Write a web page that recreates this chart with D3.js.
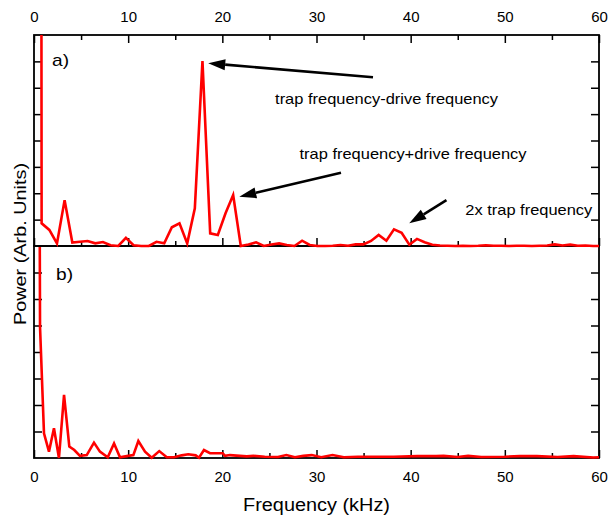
<!DOCTYPE html>
<html>
<head>
<meta charset="utf-8">
<script src="https://cdn.jsdelivr.net/npm/d3@7"></script>
<style>
  body { margin: 0; background: #fff; }
  svg text { font-family: "Liberation Sans", Arial, sans-serif; fill: #000; }
</style>
</head>
<body>
<div id="main"></div>
<script>
// panel a) spectrum, one point every ~0.813 kHz
const topFreq = [0, 0.81, 1.63, 2.44, 3.25, 4.07, 4.88, 5.69, 6.51, 7.32, 8.13, 8.95, 9.76, 10.57, 11.39,
  12.2, 13.01, 13.83, 14.64, 15.45, 16.27, 17.08, 17.89, 18.71, 19.52, 20.34, 21.15, 21.96, 22.78, 23.59,
  24.4, 25.22, 26.03, 26.84, 27.66, 28.47, 29.28, 30.1, 30.91, 31.72, 32.54, 33.35, 34.16, 34.98, 35.79,
  36.6, 37.42, 38.23, 39.04, 39.86, 40.67, 41.48, 42.3, 43.11, 43.92, 44.74, 45.55, 46.36, 47.18, 47.99,
  48.8, 49.62, 50.43, 51.24, 52.06, 52.87, 53.68, 54.5, 55.31, 56.12, 56.94, 57.75, 58.56, 59.38, 60.19];
const topPower = [300, 0.86, 0.61, 0.10, 1.74, 0.13, 0.16, 0.19, 0.10, 0.15, 0.03, 0.0, 0.31, 0.03, 0.0,
  0.0, 0.16, 0.10, 0.71, 0.86, 0.10, 1.43, 7.01, 0.48, 0.42, 1.24, 1.93, 0.0, 0.06, 0.14,
  0.0, 0.06, 0.10, 0.04, 0.0, 0.20, 0.04, 0.0, 0.0, 0.01, 0.04, 0.01, 0.06, 0.06, 0.19,
  0.42, 0.20, 0.63, 0.50, 0.05, 0.27, 0.14, 0.05, 0.02, 0.01, 0.0, 0.01, 0.0, 0.01, 0.03,
  0.01, 0.01, 0.0, 0.01, 0.01, 0.0, 0.01, 0.02, 0.06, 0.02, 0.05, 0.01, 0.02, 0.0, 0.0];

// panel b) spectrum
const botFreq = [0, 0.64, 1.06, 1.59, 2.12, 2.65, 3.19, 3.75, 4.28, 4.88, 5.6, 6.37, 7.0, 7.83, 8.5,
  9.13, 10.0, 10.55, 11.08, 11.79, 12.5, 13.3, 14.1, 14.87, 15.68, 16.38, 17.17, 17.52, 18.05, 18.69,
  19.4, 20.04, 20.28, 20.81, 21.5, 22.6, 23.3, 24.5, 25.9, 26.8, 27.7, 28.6, 29.5, 30.5, 31.7,
  32.9, 34.4, 36.4, 38.2, 40.7, 42.7, 43.5, 45.0, 46.1, 47.5, 50.0, 51.6, 53.4, 55.6, 57.3, 59.4, 60];
const botPower = [80, 4.95, 0.93, 0.24, 1.12, 0.0, 2.38, 0.43, 0.30, 0.08, 0.11, 0.58, 0.24, 0.03, 0.55,
  0.03, 0.08, 0.11, 0.64, 0.24, 0.01, 0.26, 0.03, 0.03, 0.10, 0.14, 0.10, 0.01, 0.30, 0.18,
  0.18, 0.18, 0.08, 0.11, 0.09, 0.06, 0.08, 0.05, 0.04, 0.11, 0.03, 0.08, 0.11, 0.03, 0.11,
  0.03, 0.05, 0.05, 0.05, 0.07, 0.07, 0.08, 0.04, 0.08, 0.04, 0.05, 0.07, 0.07, 0.04, 0.07, 0.02, 0.03];

const xTicks = [0, 10, 20, 30, 40, 50, 60];
const xMinor = [5, 15, 25, 35, 45, 55];
const yTicks = [1, 2, 3, 4, 5, 6, 7];

// annotations, tip / tail / label start in data units of panel a)
const notes = [
  { text: "trap frequency-drive frequency", tip: [18.5, 6.93], tail: [36.0, 6.40], at: [25.6, 5.40], len: 223 },
  { text: "trap frequency+drive frequency", tip: [21.8, 1.87], tail: [32.6, 2.78], at: [28.2, 3.28], len: 227 },
  { text: "2x trap frequency", tip: [39.85, 0.86], tail: [43.8, 1.74], at: [45.8, 1.19], len: 127 }
];

const W = 611, H = 518,
      left = 34, right = 599,
      top1 = 35, mid = 246, bot2 = 458,
      red = "#ff0000";

const svg = d3.select("#main").append("svg")
    .attr("width", W)
    .attr("height", H);

const x = d3.scaleLinear().domain([0, 60]).range([left, right]);
const yA = d3.scaleLinear().domain([0, 8]).range([mid, top1]);
const yB = d3.scaleLinear().domain([0, 8]).range([bot2, mid]);

const defs = svg.append("defs");
defs.append("clipPath").attr("id", "clipA")
    .append("rect").attr("x", left).attr("y", top1).attr("width", right - left).attr("height", mid - top1 + 2);
defs.append("clipPath").attr("id", "clipB")
    .append("rect").attr("x", left).attr("y", mid + 1).attr("width", right - left).attr("height", bot2 - mid + 1);

function ticksFor(y, yTop, yBottom, withTop) {
    const g = svg.append("g");
    // x ticks, inward
    if (withTop) {
        g.append("g").attr("transform", "translate(0," + yTop + ")")
            .call(d3.axisTop(x).tickValues(xTicks).tickSizeInner(-8).tickSizeOuter(0).tickPadding(13));
        g.append("g").attr("transform", "translate(0," + yTop + ")")
            .call(d3.axisTop(x).tickValues(xMinor).tickSizeInner(-5).tickSizeOuter(0).tickFormat(""));
    }
    g.append("g").attr("transform", "translate(0," + yBottom + ")")
        .call(d3.axisBottom(x).tickValues(xTicks).tickSizeInner(-8).tickSizeOuter(0)
            .tickFormat(withTop ? "" : d3.format("d")).tickPadding(13));
    g.append("g").attr("transform", "translate(0," + yBottom + ")")
        .call(d3.axisBottom(x).tickValues(xMinor).tickSizeInner(-5).tickSizeOuter(0).tickFormat(""));
    g.append("g").attr("transform", "translate(" + left + ",0)")
        .call(d3.axisLeft(y).tickValues(yTicks).tickSizeInner(-8).tickSizeOuter(0).tickFormat(""));
    g.append("g").attr("transform", "translate(" + right + ",0)")
        .call(d3.axisRight(y).tickValues(yTicks).tickSizeInner(-8).tickSizeOuter(0).tickFormat(""));
    g.selectAll(".domain").remove();
    g.selectAll(".tick line").attr("stroke", "#000").attr("stroke-width", 1.5);
    g.selectAll(".tick text").attr("font-size", 15).attr("fill", "#000")
        .attr("font-family", "Liberation Sans, Arial, sans-serif");
    // frame
    svg.append("rect")
        .attr("x", left).attr("y", yTop)
        .attr("width", right - left).attr("height", yBottom - yTop)
        .attr("fill", "none").attr("stroke", "#000").attr("stroke-width", 1.8);
}

ticksFor(yA, top1, mid, true);
ticksFor(yB, mid, bot2, false);

const lineA = d3.line().x((d, i) => x(topFreq[i])).y(d => yA(d));
const lineB = d3.line().x((d, i) => x(botFreq[i])).y(d => yB(d));

svg.append("path").datum(topPower)
    .attr("clip-path", "url(#clipA)")
    .attr("d", lineA)
    .attr("fill", "none").attr("stroke", red).attr("stroke-width", 2.6)
    .attr("stroke-linejoin", "miter");

svg.append("path").datum(botPower)
    .attr("clip-path", "url(#clipB)")
    .attr("d", lineB)
    .attr("fill", "none").attr("stroke", red).attr("stroke-width", 2.6)
    .attr("stroke-linejoin", "miter");

// panel letters
svg.append("text").text("a)").attr("x", 52).attr("y", 66)
    .attr("font-size", 17).attr("textLength", 17).attr("lengthAdjust", "spacingAndGlyphs");
svg.append("text").text("b)").attr("x", 56).attr("y", 280)
    .attr("font-size", 17).attr("textLength", 17).attr("lengthAdjust", "spacingAndGlyphs");

// annotations
notes.forEach(function(n) {
    const tx = x(n.tip[0]), ty = yA(n.tip[1]),
          sx = x(n.tail[0]), sy = yA(n.tail[1]);
    const ang = Math.atan2(ty - sy, tx - sx),
          hl = 17, hw = 5.5;
    const bx = tx - hl * Math.cos(ang), by = ty - hl * Math.sin(ang);
    svg.append("line")
        .attr("x1", sx).attr("y1", sy).attr("x2", bx).attr("y2", by)
        .attr("stroke", "#000").attr("stroke-width", 2.6);
    const px = -Math.sin(ang), py = Math.cos(ang);
    svg.append("path")
        .attr("d", "M" + tx + "," + ty +
            "L" + (bx + px * hw) + "," + (by + py * hw) +
            "L" + (bx - px * hw) + "," + (by - py * hw) + "Z")
        .attr("fill", "#000");
    svg.append("text").text(n.text)
        .attr("x", x(n.at[0])).attr("y", yA(n.at[1]))
        .attr("font-size", 15)
        .attr("textLength", n.len).attr("lengthAdjust", "spacingAndGlyphs");
});

// axis titles
svg.append("text").text("Frequency (kHz)")
    .attr("x", 243).attr("y", 511)
    .attr("font-size", 17.5)
    .attr("textLength", 147).attr("lengthAdjust", "spacingAndGlyphs");

svg.append("text").text("Power (Arb. Units)")
    .attr("transform", "translate(26,325) rotate(-90)")
    .attr("font-size", 17)
    .attr("textLength", 162).attr("lengthAdjust", "spacingAndGlyphs");
</script>
</body>
</html>
